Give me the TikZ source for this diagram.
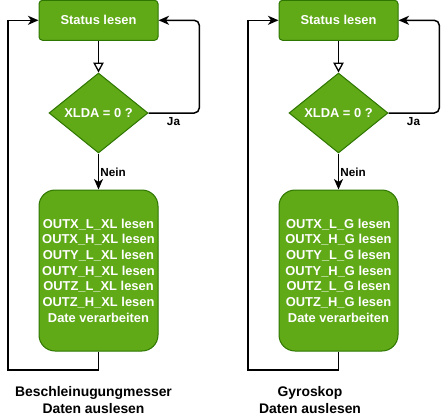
\documentclass[tikz,border=0pt]{standalone}
\usepackage{fontspec}
\setmainfont{Liberation Sans}
\usetikzlibrary{arrows.meta,shapes.geometric}
\definecolor{fillgreen}{HTML}{60A917}
\definecolor{strokegreen}{HTML}{2D7600}
\newcommand{\boxfnt}{\fontsize{12.9}{15.67}\selectfont\bfseries}
\newcommand{\lblfnt}{\fontsize{13.9}{17}\selectfont\bfseries}
\newcommand{\edgefnt}{\fontsize{11.7}{14}\selectfont\bfseries}
\tikzset{
  proc/.style={draw=strokegreen, fill=fillgreen, line width=1pt, rounded corners=3.5pt,
    minimum width=119pt, minimum height=40pt, inner sep=0pt, text=white, font=\boxfnt},
  bigproc/.style={proc, rounded corners=16pt, minimum height=161pt, align=center},
  decis/.style={diamond, draw=strokegreen, fill=fillgreen, line width=1pt, inner sep=0pt,
    minimum width=99pt, minimum height=80pt, text=white, font=\boxfnt},
  conn/.style={line width=1.5pt, -{Stealth[length=10.5pt,width=9pt,inset=3pt]}},
  openconn/.style={line width=1.5pt, -{Triangle[open,length=10pt,width=10.5pt,line width=1.3pt]}},
  edgelbl/.style={font=\edgefnt, inner sep=0pt},
  caption/.style={font=\lblfnt, align=center, inner sep=0pt},
}
\begin{document}
\begin{tikzpicture}[x=1pt,y=-1pt]
\useasboundingbox (0,0) rectangle (447,418);
\foreach \o/\n/\sfx/\cx/\cap in {0/a/XL/93.5/{Beschleinugungmesser\\Daten auslesen},240/b/G/310/{Gyroskop\\Daten auslesen}}{
  \node[proc] (s\n) at (98.5+\o,20.3) {Status lesen};
  \node[decis] (d\n) at (98.5+\o,113) {XLDA = 0 ?};
  \node[bigproc] (p\n) at (98.5+\o,270.5) {OUTX\_L\_\sfx{} lesen\\OUTX\_H\_\sfx{} lesen\\OUTY\_L\_\sfx{} lesen\\OUTY\_H\_\sfx{} lesen\\OUTZ\_L\_\sfx{} lesen\\OUTZ\_H\_\sfx{} lesen\\Date verarbeiten};
  \coordinate (j\n) at (199.3+\o,20.3);
  \coordinate (b\n) at (98.5+\o,370);
  \coordinate (c\n) at (8+\o,370);
  \draw[openconn] (s\n.south) -- (d\n.north);
  \draw[conn] (d\n.south) -- (p\n.north);
  \draw[conn, rounded corners=5pt] (d\n.east) -| (j\n) -- (s\n.east);
  \draw[conn] (p\n.south) -- (b\n) -- (c\n) |- (s\n.west);
  \node[edgelbl] (ja\n) at (173.5+\o,122) {Ja};
  \node[edgelbl] (ne\n) at (113+\o,172.5) {Nein};
  \node[caption] (cap\n) at (\cx,400.5) {\cap};
}
\end{tikzpicture}
\end{document}
